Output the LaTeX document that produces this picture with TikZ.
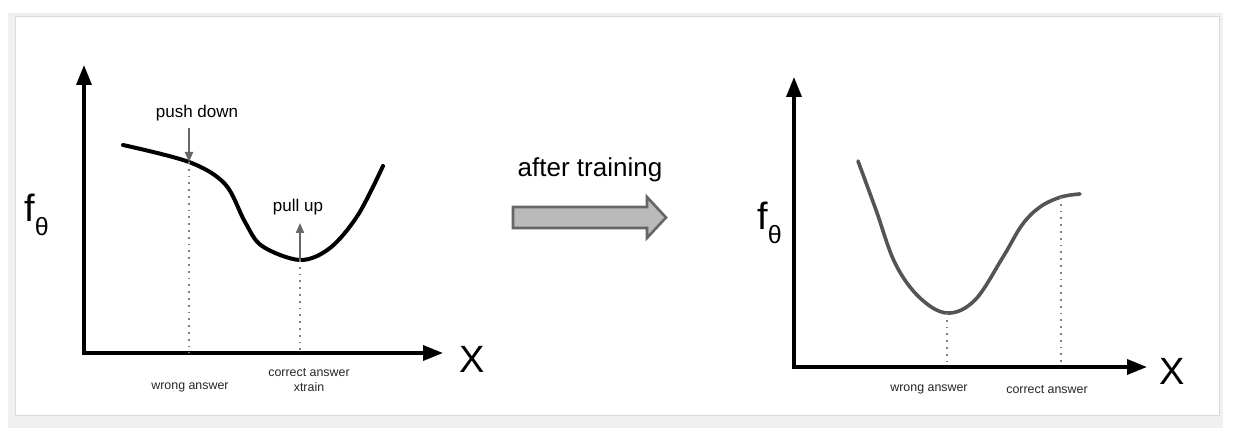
\documentclass[tikz,border=0pt]{standalone}
\usepackage{fontspec}
\setmainfont{Liberation Sans}
\usetikzlibrary{arrows.meta}

\begin{document}
\begin{tikzpicture}[x=0.5pt, y=-0.5pt,
        axis/.style={line width=1.75pt, {Triangle[length=10pt, width=7.5pt]}-{Triangle[length=10pt, width=7.5pt]}},
        force/.style={line width=1pt, color=black!60, -{Triangle[length=5pt, width=4pt]}},
        guide/.style={line width=0.8pt, color=black!50, dash pattern=on 0.9pt off 2.5pt},
        small/.style={font=\fontsize{6.2pt}{7.5pt}\selectfont, text=black!85, inner sep=0pt, anchor=base, align=center},
        big/.style={font=\fontsize{19pt}{19pt}\selectfont, inner sep=0pt, anchor=base}]
                        % frame
                        \useasboundingbox (0, 0) rectangle (1233, 438);
                        \fill[black!6] (8, 13) rectangle (1223, 428);
                        \draw[fill=white, draw=black!14, line width=0.5pt] (15, 17) rectangle (1219, 416);
                        % before training
                        \coordinate (yA) at (84, 65);
                        \coordinate (oA) at (84, 353);
                        \coordinate (xA) at (443, 353);
                        \draw[axis] (yA) -- (oA) -- (xA);
                        \node[big] (XA) at (472, 373){X};
                        \node[big, anchor=base west] (fA) at (24, 222){f\raisebox{-7pt}{\fontsize{12.5pt}{12.5pt}\selectfont θ}};
                        \coordinate (wA) at (189, 162);
                        \coordinate (cA) at (300, 260);
                        \draw[line width=2pt, line cap=round] plot[smooth, tension=0.55] coordinates {(123, 145) (wA) (225, 184) (245, 222) (262, 246) (cA) (330, 248) (358, 215) (383, 166)};
                        \draw[guide] (wA) -- (wA |- oA);
                        \draw[guide] (cA) -- (cA |- oA);
                        \node[font=\fontsize{8.5pt}{8.5pt}\selectfont, inner sep=0pt, anchor=base] (push) at (197, 118){push down};
                        \draw[force] (189, 128) -- (wA);
                        \node[font=\fontsize{8.5pt}{8.5pt}\selectfont, inner sep=0pt, anchor=base] (pull) at (298, 212){pull up};
                        \draw[force] (cA) -- (300, 223);
                        \node[small] (wrongA) at (190, 390){wrong answer};
                        \node[small, anchor=base] (rightA) at (309, 392){correct answer\\xtrain};
                        % arrow
                        \node[font=\fontsize{13pt}{13pt}\selectfont, inner sep=0pt, anchor=base] (train) at (590, 177){after training};
                        \draw[fill=black!27, draw=black!60, line width=1.3pt, line join=miter] (513, 207) -- (647, 207) -- (647, 197) -- (666, 217.5) -- (647, 238) -- (647, 228) -- (513, 228) -- cycle;
                        % after training
                        \coordinate (yB) at (794, 77);
                        \coordinate (oB) at (794, 367);
                        \coordinate (xB) at (1147, 367);
                        \draw[axis] (yB) -- (oB) -- (xB);
                        \node[big] (XB) at (1172, 385){X};
                        \node[big, anchor=base west] (fB) at (757, 230){f\raisebox{-7pt}{\fontsize{12.5pt}{12.5pt}\selectfont θ}};
                        \coordinate (wB) at (947, 313);
                        \coordinate (cB) at (1061, 197);
                        \draw[line width=1.8pt, color=black!67, line cap=round] plot[smooth, tension=0.6] coordinates {(858, 161) (876, 210) (895, 263) (919, 297) (wB) (975, 300) (1003, 257) (1022, 225) (1040, 207) (cB) (1080, 194)};
                        \draw[guide] (wB) -- (wB |- oB);
                        \draw[guide] (cB) -- (cB |- oB);
                        \node[small] (wrongB) at (929, 392){wrong answer};
                        \node[small] (rightB) at (1047, 394){correct answer};
                \end{tikzpicture}
\end{document}
